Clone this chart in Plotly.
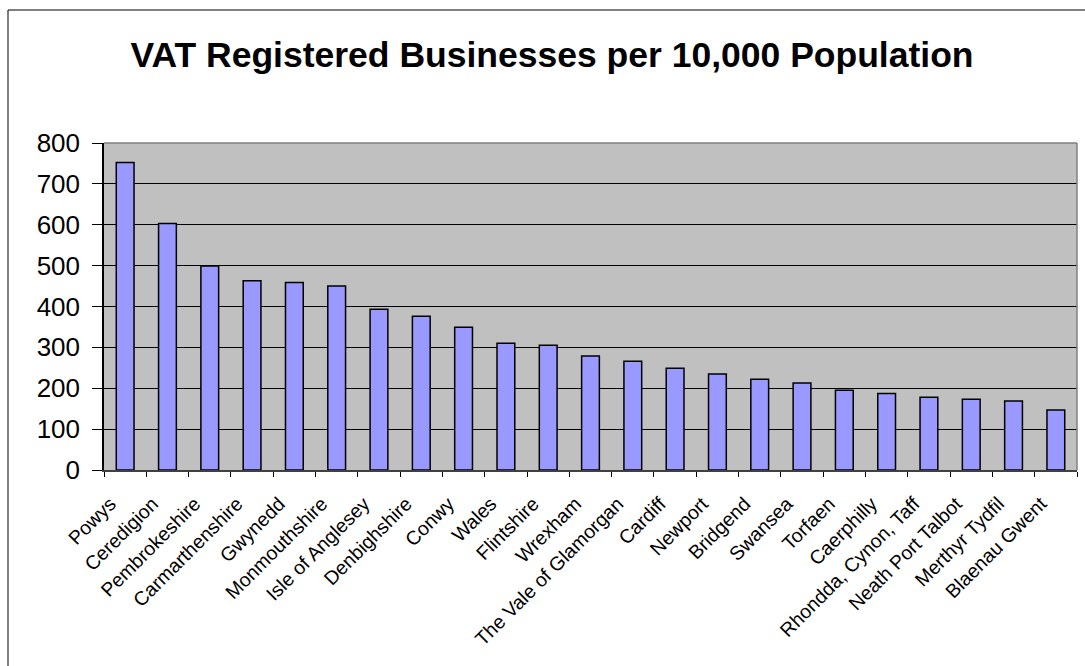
import plotly.graph_objects as go

# VAT registered businesses per 10,000 population, Welsh local authorities
areas = [
    "Powys", "Ceredigion", "Pembrokeshire", "Carmarthenshire", "Gwynedd",
    "Monmouthshire", "Isle of Anglesey", "Denbighshire", "Conwy", "Wales",
    "Flintshire", "Wrexham", "The Vale of Glamorgan", "Cardiff", "Newport",
    "Bridgend", "Swansea", "Torfaen", "Caerphilly", "Rhondda, Cynon, Taff",
    "Neath Port Talbot", "Merthyr Tydfil", "Blaenau Gwent",
]
businesses_per_10k = [
    752, 603, 499, 463, 459,
    450, 393, 376, 349, 310,
    305, 279, 266, 249, 235,
    222, 213, 195, 187, 178,
    173, 169, 147,
]
y_ticks = [0, 100, 200, 300, 400, 500, 600, 700, 800]

W, H = 1085, 666
ML, MR, MT, MB = 104, 8, 143, 196
PW, PH = W - ML - MR, H - MT - MB

FONT = "Liberation Sans, Arial, sans-serif"


def px_x(p):
    return (p - ML) / PW


def px_y(p):
    return (H - MB - p) / PH


fig = go.Figure(
    go.Bar(
        x=areas,
        y=businesses_per_10k,
        marker=dict(color="#9999FF", line=dict(color="#000000", width=1.5)),
        hoverinfo="x+y",
    )
)

fig.update_layout(
    width=W,
    height=H,
    margin=dict(l=ML, r=MR, t=MT, b=MB),
    paper_bgcolor="#FFFFFF",
    plot_bgcolor="#C0C0C0",
    bargap=0.58,
    showlegend=False,
    font=dict(family=FONT, color="#000000"),
    title=dict(
        text="<b>VAT Registered Businesses per 10,000 Population</b>",
        x=552 / W,
        xanchor="center",
        y=1 - 55 / H,
        yanchor="middle",
        yref="container",
        font=dict(family=FONT, size=35.5, color="#000000"),
    ),
    xaxis=dict(
        type="category",
        tickson="boundaries",
        ticks="outside",
        ticklen=5,
        tickwidth=1,
        tickcolor="#000000",
        tickangle=-45,
        tickfont=dict(family=FONT, size=19.5, color="#000000"),
        ticklabelshift=-15,
        ticklabelstandoff=13,
        showgrid=False,
        showline=True,
        linecolor="#404040",
        linewidth=1.5,
        automargin=False,
    ),
    yaxis=dict(
        range=[0, 800],
        tickvals=y_ticks,
        ticks="outside",
        ticklen=10,
        tickwidth=1,
        tickcolor="#000000",
        tickfont=dict(family=FONT, size=26, color="#000000"),
        ticklabelstandoff=7,
        showgrid=True,
        gridcolor="#000000",
        gridwidth=1,
        zeroline=False,
        showline=True,
        linecolor="#000000",
        linewidth=1.5,
        automargin=False,
    ),
    shapes=[
        # plot-area frame (top and right edges)
        dict(type="line", xref="paper", yref="paper", x0=0, x1=1, y0=1, y1=1,
             line=dict(color="#808080", width=1.5), layer="above"),
        dict(type="line", xref="paper", yref="paper", x0=1, x1=1, y0=0, y1=1,
             line=dict(color="#808080", width=1.5), layer="above"),
        # chart-area border
        dict(type="line", xref="paper", yref="paper",
             x0=px_x(8), x1=px_x(W + 5), y0=px_y(10), y1=px_y(10),
             line=dict(color="#000000", width=1), layer="above"),
        dict(type="line", xref="paper", yref="paper",
             x0=px_x(8), x1=px_x(8), y0=px_y(10), y1=px_y(H + 5),
             line=dict(color="#000000", width=1), layer="above"),
    ],
)

fig.write_html("out.html")
